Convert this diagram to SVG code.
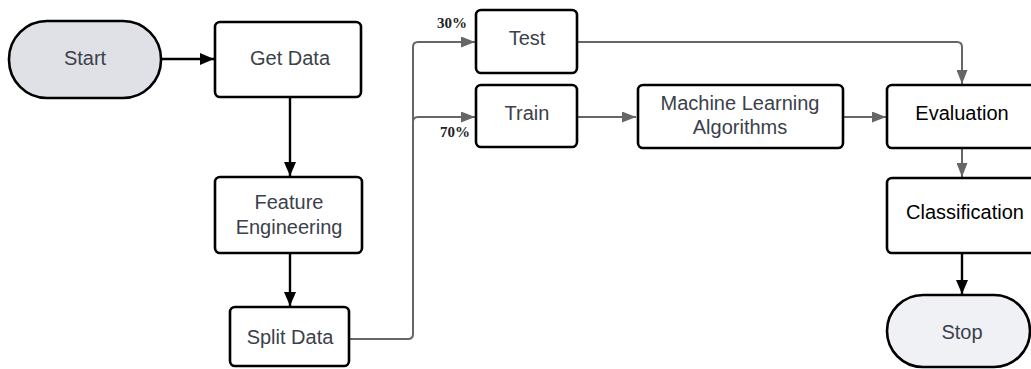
<svg xmlns="http://www.w3.org/2000/svg" width="1031" height="369" viewBox="0 0 1031 369">
<style>
.box{fill:#fff;stroke:#000;stroke-width:2.6}
.t{font-family:"Liberation Sans",Arial,sans-serif;font-size:20px;fill:#3a414a;text-anchor:middle}
.tb{fill:#000}
.lbl{font-family:"Liberation Serif","Times New Roman",serif;font-size:15px;font-weight:bold;fill:#222}
.cb{fill:none;stroke:#000;stroke-width:2.4}
.cg{fill:none;stroke:#666;stroke-width:2}
</style>
<defs>
<marker id="ag" markerWidth="14" markerHeight="11" refX="14" refY="5.5" orient="auto" markerUnits="userSpaceOnUse"><path d="M0,0 L14,5.5 L0,11 Z" fill="#666"/></marker>
<marker id="ab2" markerWidth="14" markerHeight="12" refX="14" refY="6" orient="auto" markerUnits="userSpaceOnUse"><path d="M0,0 L14,6 L0,12 Z" fill="#000"/></marker>
</defs>
<g id="connectors">
<path class="cb" d="M161,59 H214" marker-end="url(#ab2)"/>
<path class="cb" d="M290,98 V176" marker-end="url(#ab2)"/>
<path class="cb" d="M290,254 V306" marker-end="url(#ab2)"/>
<path class="cg" d="M349,339 H408 Q413,339 413,334 V47 Q413,42 418,42 H475" marker-end="url(#ag)"/>
<path class="cg" d="M413,122 Q413,117 418,117 H475" marker-end="url(#ag)"/>
<path class="cg" d="M578,117 H636" marker-end="url(#ag)"/>
<path class="cg" d="M844,117 H886" marker-end="url(#ag)"/>
<path class="cg" d="M578,42 H957 Q962,42 962,47 V84" marker-end="url(#ag)"/>
<path class="cg" d="M962,149 V177" marker-end="url(#ag)"/>
<path class="cb" d="M962,254 V294" marker-end="url(#ab2)"/>
<text class="lbl" x="437" y="28">30%</text>
<text class="lbl" x="440" y="137">70%</text>
</g>
<g id="start"><rect x="9" y="21" width="152" height="77" rx="38" fill="#dfe1e6" stroke="#000" stroke-width="2.6"/><text class="t" x="85" y="65">Start</text></g>
<g id="getdata"><rect class="box" x="215" y="22" width="146" height="75" rx="5"/><text class="t" x="290" y="65">Get Data</text></g>
<g id="feature"><rect class="box" x="215" y="177" width="147" height="76" rx="5"/><text class="t" x="289" y="209">Feature</text><text class="t" x="289" y="234">Engineering</text></g>
<g id="split"><rect class="box" x="230" y="307" width="119" height="59" rx="5"/><text class="t" x="290" y="344">Split Data</text></g>
<g id="test"><rect class="box" x="476" y="10" width="101" height="63" rx="5"/><text class="t" x="527" y="45">Test</text></g>
<g id="train"><rect class="box" x="476" y="85" width="101" height="62" rx="5"/><text class="t" x="527" y="120">Train</text></g>
<g id="ml"><rect class="box" x="638" y="85" width="205" height="63" rx="5"/><text class="t" x="740" y="110">Machine Learning</text><text class="t" x="740" y="134">Algorithms</text></g>
<g id="evaluation"><rect class="box" x="887" y="85" width="155" height="63" rx="5"/><text class="t tb" x="962" y="120">Evaluation</text></g>
<g id="classification"><rect class="box" x="887" y="178" width="155" height="75" rx="5"/><text class="t tb" x="965" y="219">Classification</text></g>
<g id="stop"><rect x="887" y="295" width="143" height="72" rx="36" fill="#f0f1f4" stroke="#000" stroke-width="2.6"/><text class="t" x="962" y="339">Stop</text></g>
</svg>
